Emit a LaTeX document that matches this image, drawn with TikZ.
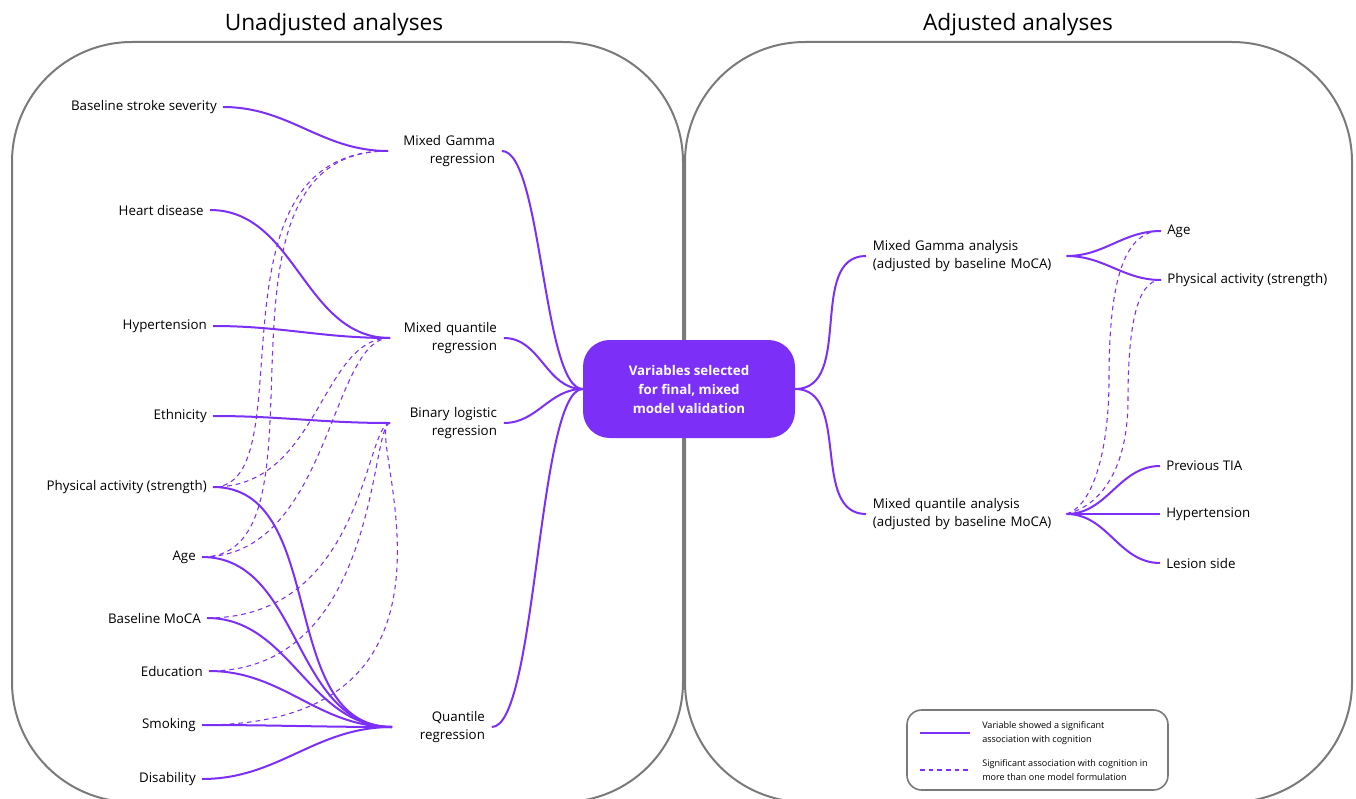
\documentclass[tikz,border=0pt]{standalone}
\usepackage{fontspec}
\setmainfont{Open Sans}
\definecolor{mmpurple}{HTML}{7B2FF7}
\definecolor{framegray}{HTML}{7A7A7A}

\begin{document}
\begin{tikzpicture}[
        x=0.75pt, y=-0.75pt,
        title/.style={font=\fontsize{17}{20}\selectfont},
        var/.style={font=\fontsize{10}{14}\selectfont, inner xsep=4.5pt, inner ysep=2pt},
        method/.style={font=\fontsize{10}{14}\selectfont, text width=75pt, inner xsep=5pt, inner ysep=2pt},
        hub/.style={rectangle, rounded corners=20pt, fill=mmpurple, text=white, align=center, minimum width=159pt, minimum height=73.5pt, font=\bfseries\fontsize{10}{14.25}\selectfont},
        panel/.style={draw=framegray, line width=1.5pt, rounded corners=90pt},
        legtext/.style={font=\fontsize{6.8}{10.5}\selectfont, align=left, inner xsep=3pt},
        link/.style={draw=mmpurple, line width=1.5pt},
        dlink/.style={draw=mmpurple, line width=0.8pt, dash pattern=on 3.5pt off 3pt}
    ]
    \useasboundingbox (0,0) rectangle (1356,799);
    \clip (0,0) rectangle (1356,799);

    % Panels
    \draw[panel] (12,42) rectangle (683,802);
    \draw[panel] (685,42) rectangle (1352,802);
    \node[title] (lefttitle) at (334,25) {Unadjusted analyses};
    \node[title] (righttitle) at (1018,25) {Adjusted analyses};

    % Unadjusted variables (left)
    \node[var, anchor=east] (sev) at (223,107) {Baseline stroke severity};
    \node[var, anchor=east] (heart) at (210,210) {Heart disease};
    \node[var, anchor=east] (hyp) at (213,326) {Hypertension};
    \node[var, anchor=east] (eth) at (213,416) {Ethnicity};
    \node[var, anchor=east] (phys) at (213,487) {Physical activity (strength)};
    \node[var, anchor=east] (age) at (202,557) {Age};
    \node[var, anchor=east] (moca) at (207,618) {Baseline MoCA};
    \node[var, anchor=east] (edu) at (209,671) {Education};
    \node[var, anchor=east] (smok) at (202,725) {Smoking};
    \node[var, anchor=east] (dis) at (202,779) {Disability};

    % Unadjusted models
    \node[method, align=right, anchor=west] (gam) at (388,151) {Mixed Gamma\\regression};
    \node[method, align=right, anchor=west] (mq) at (390,338) {Mixed quantile\\regression};
    \node[method, align=right, anchor=west] (bl) at (390,423) {Binary logistic\\regression};
    \node[method, text width=64.5pt, align=right, anchor=west] (qr) at (392,727) {Quantile\\regression};

    % Centre
    \node[hub] (sel) at (689,389) {Variables selected\\for final, mixed\\model validation};

    % Adjusted models and variables (right)
    \node[method, text width=140pt, align=left, anchor=west] (rg) at (866,256) {Mixed Gamma analysis\\(adjusted by baseline MoCA)};
    \node[method, text width=140pt, align=left, anchor=west] (rq) at (866,514) {Mixed quantile analysis\\(adjusted by baseline MoCA)};
    \node[var, anchor=west] (rage) at (1161,231) {Age};
    \node[var, anchor=west] (rphys) at (1161,280) {Physical activity (strength)};
    \node[var, anchor=west] (tia) at (1160,466) {Previous TIA};
    \node[var, anchor=west] (rhyp) at (1160,514) {Hypertension};
    \node[var, anchor=west] (les) at (1160,563) {Lesion side};

    % Significant associations
    \draw[link] (sev.east) to[out=0, in=180] (gam.west);
    \draw[link] (heart.east) to[out=0, in=180] (mq.west);
    \draw[link] (hyp.east) to[out=0, in=180] (mq.west);
    \draw[link] (eth.east) to[out=0, in=180] (bl.west);
    \draw[link] (phys.east) to[out=0, in=180] (qr.west);
    \draw[link] (age.east) to[out=0, in=180] (qr.west);
    \draw[link] (moca.east) to[out=0, in=180] (qr.west);
    \draw[link] (edu.east) to[out=0, in=180] (qr.west);
    \draw[link] (smok.east) to[out=0, in=180] (qr.west);
    \draw[link] (dis.east) to[out=0, in=180] (qr.west);

    \draw[link] (gam.east) .. controls +(40,0) and +(-40,0) .. (sel.west);
    \draw[link] (mq.east) to[out=0, in=180] (sel.west);
    \draw[link] (bl.east) to[out=0, in=180] (sel.west);
    \draw[link] (qr.east) .. controls +(45,0) and +(-45,0) .. (sel.west);

    \draw[link] (sel.east) to[out=0, in=180] (rg.west);
    \draw[link] (sel.east) to[out=0, in=180] (rq.west);
    \draw[link] (rg.east) to[out=0, in=180] (rage.west);
    \draw[link] (rg.east) to[out=0, in=180] (rphys.west);
    \draw[link] (rq.east) to[out=0, in=180] (tia.west);
    \draw[link] (rq.east) to[out=0, in=180] (rhyp.west);
    \draw[link] (rq.east) to[out=0, in=180] (les.west);

    % More than one model formulation
    \draw[dlink] (gam.west) .. controls +(-190,0) and +(95,0) .. (phys.east);
    \draw[dlink] (gam.west) .. controls +(-200,0) and +(140,0) .. (age.east);
    \draw[dlink] (mq.west) .. controls +(-70,0) and +(107,0) .. (phys.east);
    \draw[dlink] (mq.west) .. controls +(-60,0) and +(128,0) .. (age.east);
    \draw[dlink] (bl.west) .. controls +(-25,0) and +(158,0) .. (moca.east);
    \draw[dlink] (bl.west) .. controls +(-20,0) and +(171,0) .. (edu.east);
    \draw[dlink] (bl.west) .. controls +(-30,0) and +(298,0) .. (smok.east);

    \coordinate (bendage) at (1109,380);
    \coordinate (bendphys) at (1128,400);
    \draw[dlink] (rq.east) .. controls +(30,-10) and +(0,60) .. (bendage)
        .. controls +(0,-90) and +(-40,0) .. (rage.west);
    \draw[dlink] (rq.east) .. controls +(40,-10) and +(0,60) .. (bendphys)
        .. controls +(0,-70) and +(-25,0) .. (rphys.west);

    % Legend
    \draw[panel, line width=1.2pt, rounded corners=11pt] (907,710) rectangle (1168,790);
    \coordinate (solidA) at (920,733);
    \coordinate (solidB) at (970,733);
    \coordinate (dashA) at (920,770);
    \coordinate (dashB) at (970,770);
    \draw[link, line width=1pt] (solidA) -- (solidB);
    \draw[dlink] (dashA) -- (dashB);
    \node[legtext, anchor=west] (legsolid) at (978,733) {Variable showed a significant\\association with cognition};
    \node[legtext, anchor=west] (legdash) at (978,770) {Significant association with cognition in\\more than one model formulation};

    \end{tikzpicture}
\end{document}
